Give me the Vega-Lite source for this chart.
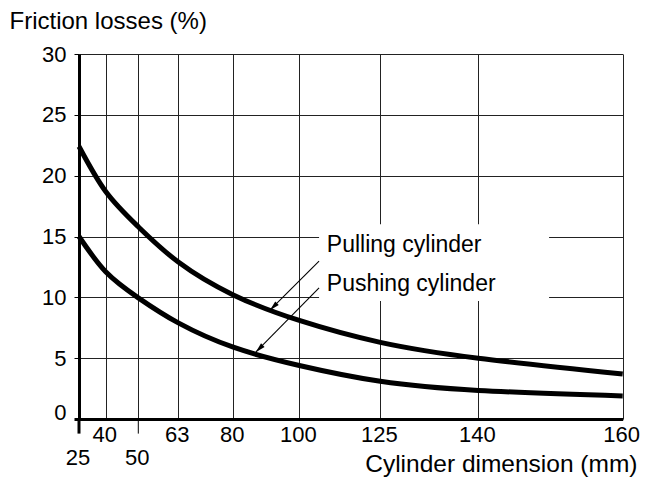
{
  "$schema": "https://vega.github.io/schema/vega-lite/v6.json",
  "width": 544,
  "height": 365,
  "autosize": {"type": "none"},
  "padding": {"left": 79, "top": 54, "right": 28, "bottom": 58},
  "background": "white",
  "config": {"view": {"stroke": null}, "font": "Liberation Sans"},
  "layer": [
    {
      "data": {"values": [
        {"d": 25, "loss": 22.4, "series": "Pulling cylinder"},
        {"d": 40, "loss": 18.7, "series": "Pulling cylinder"},
        {"d": 50, "loss": 15.8, "series": "Pulling cylinder"},
        {"d": 63, "loss": 12.9, "series": "Pulling cylinder"},
        {"d": 80, "loss": 10.2, "series": "Pulling cylinder"},
        {"d": 100, "loss": 8.1, "series": "Pulling cylinder"},
        {"d": 125, "loss": 6.3, "series": "Pulling cylinder"},
        {"d": 140, "loss": 5.0, "series": "Pulling cylinder"},
        {"d": 160, "loss": 3.7, "series": "Pulling cylinder"},
        {"d": 25, "loss": 15.0, "series": "Pushing cylinder"},
        {"d": 40, "loss": 12.1, "series": "Pushing cylinder"},
        {"d": 50, "loss": 9.96, "series": "Pushing cylinder"},
        {"d": 63, "loss": 7.9, "series": "Pushing cylinder"},
        {"d": 80, "loss": 5.9, "series": "Pushing cylinder"},
        {"d": 100, "loss": 4.4, "series": "Pushing cylinder"},
        {"d": 125, "loss": 3.1, "series": "Pushing cylinder"},
        {"d": 140, "loss": 2.35, "series": "Pushing cylinder"},
        {"d": 160, "loss": 1.9, "series": "Pushing cylinder"}
      ]},
      "mark": {"type": "line", "interpolate": "natural", "strokeWidth": 5, "color": "black"},
      "encoding": {
        "x": {
          "field": "d", "type": "quantitative",
          "scale": {"type": "linear", "domain": [25, 40, 50, 63, 80, 100, 125, 140, 160], "range": [0, 26.7, 59.3, 99.3, 154.3, 220.3, 301.3, 399.3, 543.7], "nice": false, "zero": false},
          "axis": {
            "values": [25, 40, 50, 63, 80, 100, 125, 140, 160],
            "title": "Cylinder dimension (mm)",
            "grid": true, "gridColor": "#222", "gridWidth": 1,
            "domainColor": "black", "domainWidth": 3,
            "ticks": false,
            "labelExpr": "(datum.value==25||datum.value==50) ? ['', datum.label] : datum.label",
            "labelLineHeight": 23,
            "labelOffset": -1.5,
            "labelFont": "Liberation Sans", "labelFontSize": 22, "labelColor": "black",
            "labelBaseline": "alphabetic", "labelPadding": 22.7, "labelFlush": false, "labelOverlap": false,
            "titleFont": "Liberation Sans", "titleFontSize": 24.5, "titleFontWeight": "normal", "titleColor": "black",
            "titleAlign": "right", "titleBaseline": "alphabetic", "titleX": 558, "titleY": 52.5
          }
        },
        "y": {
          "field": "loss", "type": "quantitative",
          "scale": {"domain": [0, 30], "nice": false, "zero": false},
          "axis": {
            "values": [0, 5, 10, 15, 20, 25, 30],
            "title": "Friction losses (%)",
            "grid": true, "gridColor": "#222", "gridWidth": 1,
            "domainColor": "black", "domainWidth": 3,
            "tickColor": "black", "tickSize": 5,
            "tickWidth": {"condition": {"test": "datum.value==0", "value": 3}, "value": 1},
            "labelFont": "Liberation Sans", "labelFontSize": 22, "labelColor": "black",
            "labelBaseline": {"condition": {"test": "datum.value==0", "value": "alphabetic"}, "value": "middle"},
            "labelPadding": 8,
            "titleFont": "Liberation Sans", "titleFontSize": 24, "titleFontWeight": "normal", "titleColor": "black",
            "titleAngle": 0, "titleAlign": "left", "titleBaseline": "alphabetic", "titleX": -70, "titleY": -25.7
          }
        },
        "detail": {"field": "series", "type": "nominal"}
      }
    },
    {
      "data": {"values": [
        {"d": 25, "lo": -1.2, "hi": 0, "w": "thick"},
        {"d": 50, "lo": -1.2, "hi": 0, "w": "thin"}
      ]},
      "mark": {"type": "rule", "color": "black"},
      "encoding": {
        "x": {"field": "d", "type": "quantitative"},
        "y": {"field": "lo", "type": "quantitative"},
        "y2": {"field": "hi"},
        "strokeWidth": {"field": "w", "type": "nominal", "scale": {"domain": ["thick", "thin"], "range": [3, 1]}, "legend": null}
      }
    },
    {
      "data": {"values": [{"x1": 106.1, "x2": 149.8, "y1": 9.7, "y2": 16.0}]},
      "mark": {"type": "rect", "fill": "white", "stroke": null},
      "encoding": {
        "x": {"field": "x1", "type": "quantitative"},
        "x2": {"field": "x2"},
        "y": {"field": "y1", "type": "quantitative"},
        "y2": {"field": "y2"}
      }
    },
    {
      "data": {"values": [
        {"x1": 106.1, "y1": 12.97, "x2": 91.1, "y2": 8.94},
        {"x1": 106.1, "y1": 10.78, "x2": 86.8, "y2": 5.49}
      ]},
      "mark": {"type": "rule", "color": "black", "strokeWidth": 1.1},
      "encoding": {
        "x": {"field": "x1", "type": "quantitative"},
        "x2": {"field": "x2"},
        "y": {"field": "y1", "type": "quantitative"},
        "y2": {"field": "y2"}
      }
    },
    {
      "data": {"values": [
        {"x": 91.1, "y": 8.94},
        {"x": 86.8, "y": 5.49}
      ]},
      "mark": {"type": "point", "shape": "M0,0 L-0.25,-1 L0.25,-1 Z", "filled": true, "color": "black", "opacity": 1, "size": 400, "angle": 45, "strokeWidth": 0},
      "encoding": {
        "x": {"field": "x", "type": "quantitative"},
        "y": {"field": "y", "type": "quantitative"}
      }
    },
    {
      "data": {"values": [
        {"x": 108.5, "y": 13.71, "label": "Pulling cylinder"},
        {"x": 108.5, "y": 10.52, "label": "Pushing cylinder"}
      ]},
      "mark": {"type": "text", "align": "left", "baseline": "alphabetic", "font": "Liberation Sans", "fontSize": 23, "color": "black"},
      "encoding": {
        "x": {"field": "x", "type": "quantitative"},
        "y": {"field": "y", "type": "quantitative"},
        "text": {"field": "label"}
      }
    }
  ]
}
